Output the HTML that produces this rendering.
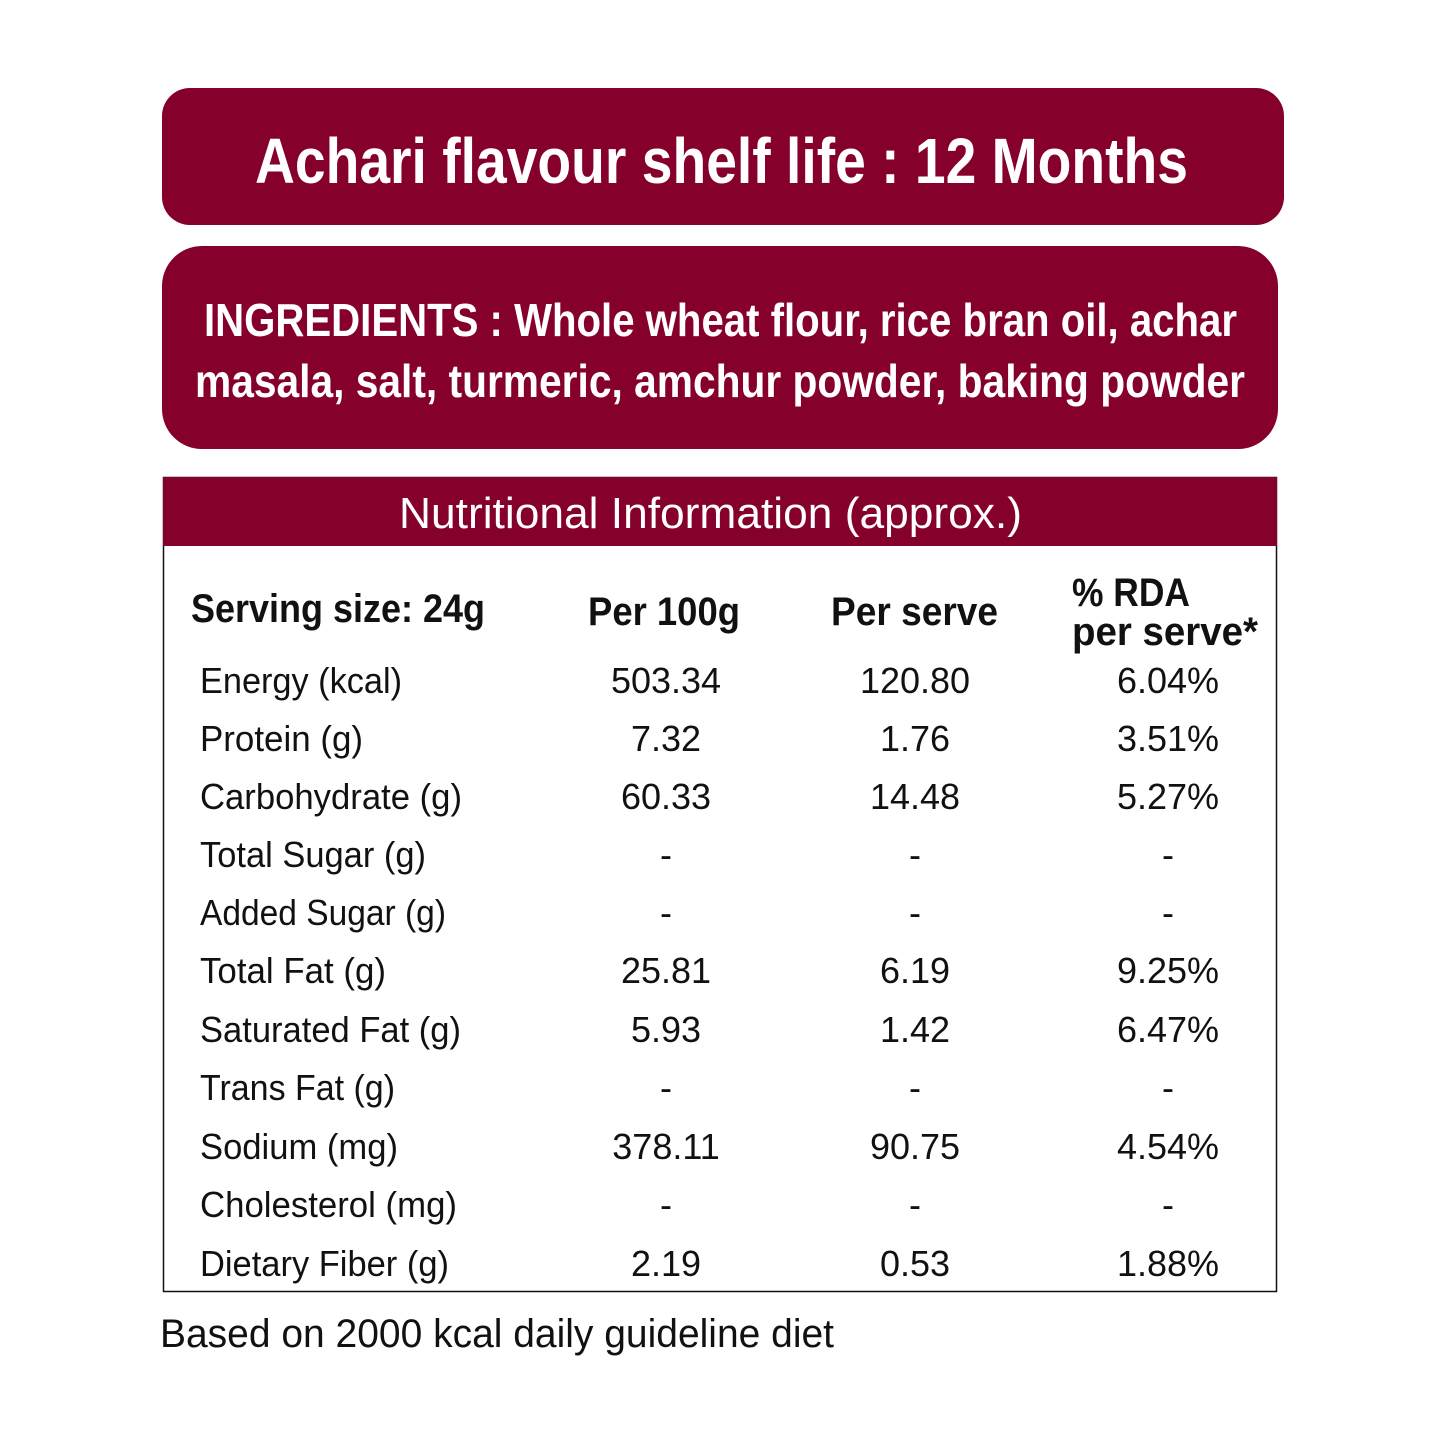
<!DOCTYPE html>
<html><head><meta charset="utf-8"><style>html,body{margin:0;padding:0;background:#fff}svg{display:block}</style></head>
<body>
<svg width="1445" height="1445" viewBox="0 0 1445 1445" xmlns="http://www.w3.org/2000/svg" font-family="Liberation Sans, sans-serif">
<rect width="1445" height="1445" fill="#fff"/>
<rect x="162" y="88" width="1122" height="137" rx="28" fill="#85002a"/>
<text x="255" y="183" font-size="64" font-weight="bold" fill="#fff" textLength="933" lengthAdjust="spacingAndGlyphs">Achari flavour shelf life : 12 Months</text>
<rect x="162" y="246" width="1116" height="203" rx="40" fill="#85002a"/>
<text x="204" y="336" font-size="46" font-weight="bold" fill="#fff" textLength="1033" lengthAdjust="spacingAndGlyphs">INGREDIENTS : Whole wheat flour, rice bran oil, achar</text>
<text x="195" y="397" font-size="46" font-weight="bold" fill="#fff" textLength="1050" lengthAdjust="spacingAndGlyphs">masala, salt, turmeric, amchur powder, baking powder</text>
<rect x="163.5" y="477.5" width="1113" height="814" fill="#fff" stroke="#111" stroke-width="1.5"/>
<rect x="163" y="477" width="1114" height="69" fill="#85002a"/>
<text x="399" y="528" font-size="44" fill="#fff" textLength="623" lengthAdjust="spacingAndGlyphs">Nutritional Information (approx.)</text>
<g font-weight="bold" font-size="40" fill="#111">
<text x="191" y="622" textLength="294" lengthAdjust="spacingAndGlyphs">Serving size: 24g</text>
<text x="588" y="625" textLength="152" lengthAdjust="spacingAndGlyphs">Per 100g</text>
<text x="831" y="625" textLength="167" lengthAdjust="spacingAndGlyphs">Per serve</text>
<text x="1072" y="606" textLength="118" lengthAdjust="spacingAndGlyphs">% RDA</text>
<text x="1072" y="645" textLength="186" lengthAdjust="spacingAndGlyphs">per serve*</text>
</g>
<g font-size="36" fill="#111">
<text x="200" y="693" textLength="202" lengthAdjust="spacingAndGlyphs">Energy (kcal)</text>
<text x="200" y="751" textLength="163" lengthAdjust="spacingAndGlyphs">Protein (g)</text>
<text x="200" y="809" textLength="262" lengthAdjust="spacingAndGlyphs">Carbohydrate (g)</text>
<text x="200" y="867" textLength="226" lengthAdjust="spacingAndGlyphs">Total Sugar (g)</text>
<text x="200" y="925" textLength="246" lengthAdjust="spacingAndGlyphs">Added Sugar (g)</text>
<text x="200" y="983" textLength="186" lengthAdjust="spacingAndGlyphs">Total Fat (g)</text>
<text x="200" y="1042" textLength="261" lengthAdjust="spacingAndGlyphs">Saturated Fat (g)</text>
<text x="200" y="1100" textLength="195" lengthAdjust="spacingAndGlyphs">Trans Fat (g)</text>
<text x="200" y="1159" textLength="198" lengthAdjust="spacingAndGlyphs">Sodium (mg)</text>
<text x="200" y="1217" textLength="257" lengthAdjust="spacingAndGlyphs">Cholesterol (mg)</text>
<text x="200" y="1276" textLength="249" lengthAdjust="spacingAndGlyphs">Dietary Fiber (g)</text>
</g>
<g font-size="36" fill="#111" text-anchor="middle">
<text x="666" y="693">503.34</text><text x="915" y="693">120.80</text><text x="1168" y="693">6.04%</text>
<text x="666" y="751">7.32</text><text x="915" y="751">1.76</text><text x="1168" y="751">3.51%</text>
<text x="666" y="809">60.33</text><text x="915" y="809">14.48</text><text x="1168" y="809">5.27%</text>
<text x="666" y="867">-</text><text x="915" y="867">-</text><text x="1168" y="867">-</text>
<text x="666" y="925">-</text><text x="915" y="925">-</text><text x="1168" y="925">-</text>
<text x="666" y="983">25.81</text><text x="915" y="983">6.19</text><text x="1168" y="983">9.25%</text>
<text x="666" y="1042">5.93</text><text x="915" y="1042">1.42</text><text x="1168" y="1042">6.47%</text>
<text x="666" y="1100">-</text><text x="915" y="1100">-</text><text x="1168" y="1100">-</text>
<text x="666" y="1159">378.11</text><text x="915" y="1159">90.75</text><text x="1168" y="1159">4.54%</text>
<text x="666" y="1217">-</text><text x="915" y="1217">-</text><text x="1168" y="1217">-</text>
<text x="666" y="1276">2.19</text><text x="915" y="1276">0.53</text><text x="1168" y="1276">1.88%</text>
</g>
<text x="160" y="1347" font-size="40" fill="#111" textLength="674" lengthAdjust="spacingAndGlyphs">Based on 2000 kcal daily guideline diet</text>
</svg>
</body></html>
